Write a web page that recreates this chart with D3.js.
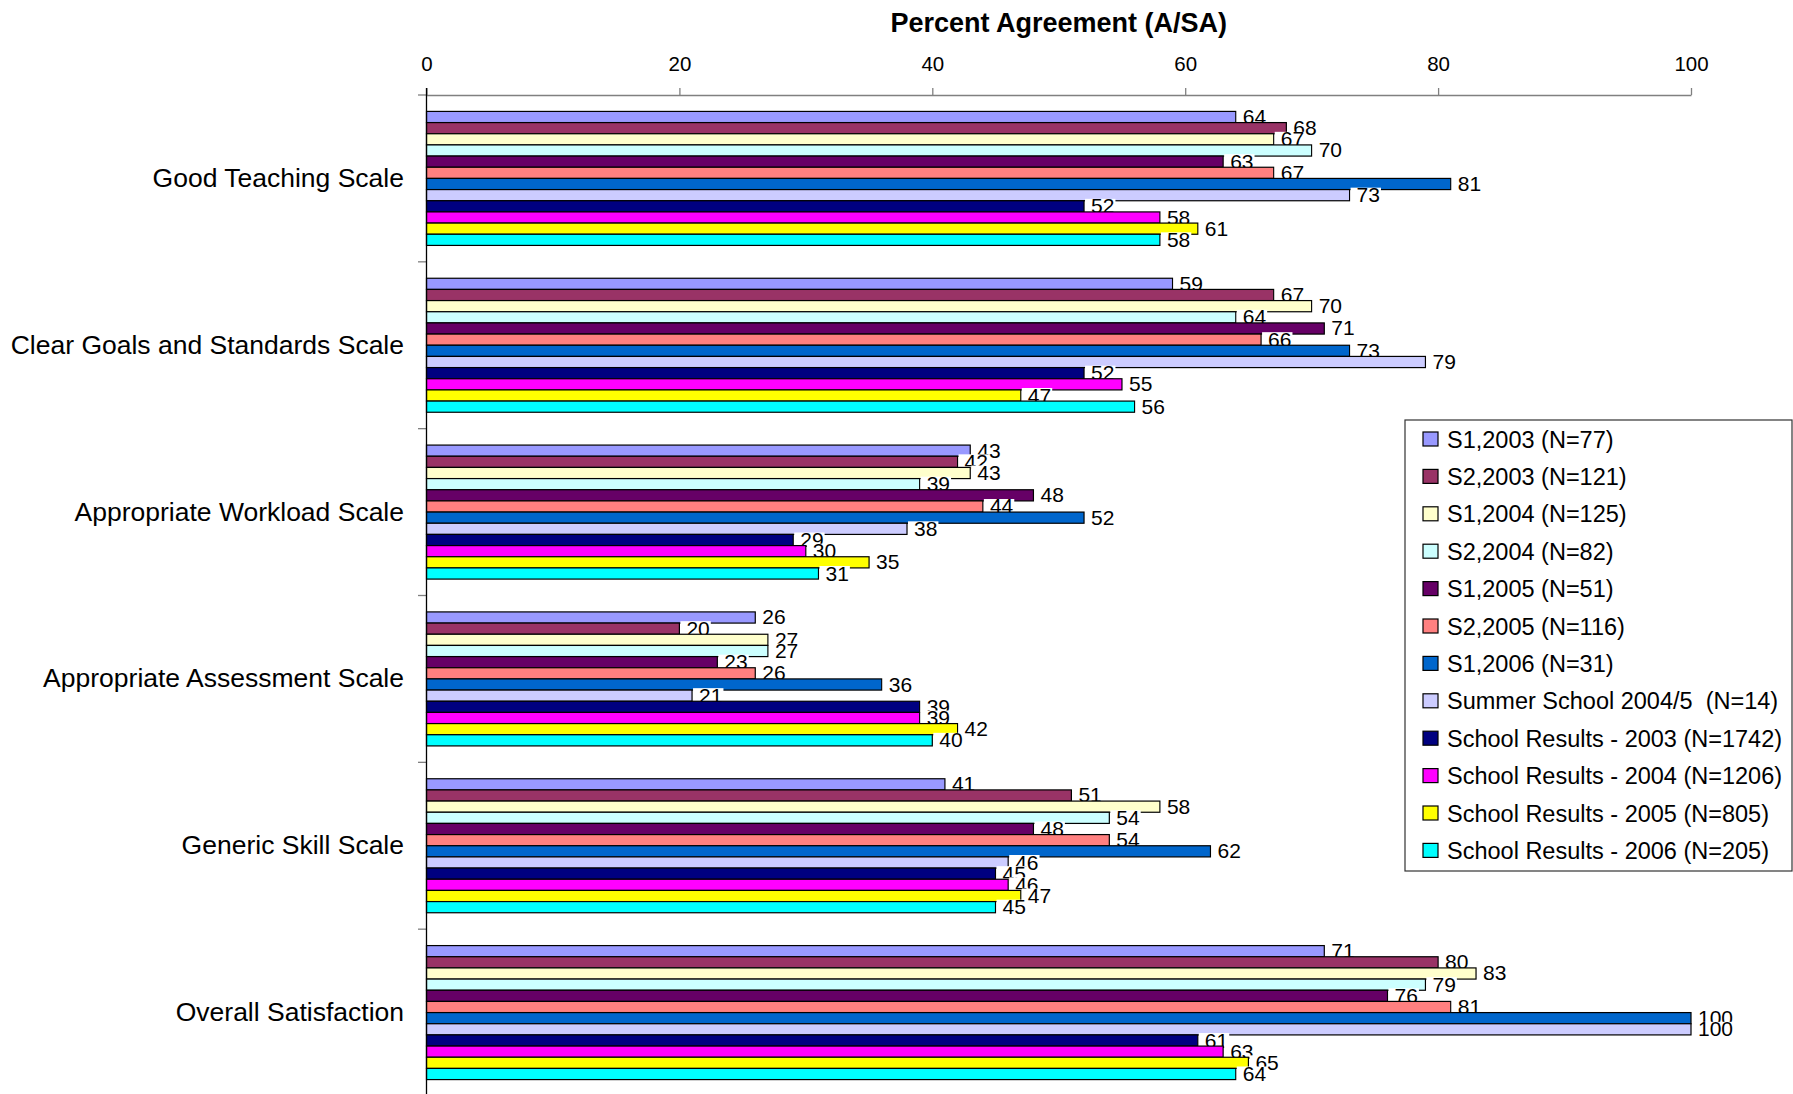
<!DOCTYPE html>
<html>
<head>
<meta charset="utf-8">
<script src="https://cdn.jsdelivr.net/npm/d3@7"></script>
<style>
  html, body { margin: 0; padding: 0; background: #fff; }
  svg { display: block; font-family: "Liberation Sans", Arial, sans-serif; }
</style>
</head>
<body>
<svg id="chart" width="1793" height="1094"></svg>
<script>
// ---- Data ----
const categories = [
  "Good Teaching Scale",
  "Clear Goals and Standards Scale",
  "Appropriate Workload Scale",
  "Appropriate Assessment Scale",
  "Generic Skill Scale",
  "Overall Satisfaction"
];
const seriesNames = [
  "S1,2003 (N=77)",
  "S2,2003 (N=121)",
  "S1,2004 (N=125)",
  "S2,2004 (N=82)",
  "S1,2005 (N=51)",
  "S2,2005 (N=116)",
  "S1,2006 (N=31)",
  "Summer School 2004/5  (N=14)",
  "School Results - 2003 (N=1742)",
  "School Results - 2004 (N=1206)",
  "School Results - 2005 (N=805)",
  "School Results - 2006 (N=205)"
];
const seriesColors = [
  "#9999FF", "#993366", "#FFFFCC", "#CCFFFF", "#660066", "#FF8080",
  "#0066CC", "#CCCCFF", "#000080", "#FF00FF", "#FFFF00", "#00FFFF"
];
// values per series, in category order
const s1_2003   = [64, 59, 43, 26, 41, 71];
const s2_2003   = [68, 67, 42, 20, 51, 80];
const s1_2004   = [67, 70, 43, 27, 58, 83];
const s2_2004   = [70, 64, 39, 27, 54, 79];
const s1_2005   = [63, 71, 48, 23, 48, 76];
const s2_2005   = [67, 66, 44, 26, 54, 81];
const s1_2006   = [81, 73, 52, 36, 62, 100];
const summer    = [73, 79, 38, 21, 46, 100];
const school03  = [52, 52, 29, 39, 45, 61];
const school04  = [58, 55, 30, 39, 46, 63];
const school05  = [61, 47, 35, 42, 47, 65];
const school06  = [58, 56, 31, 40, 45, 64];
const seriesValues = [s1_2003, s2_2003, s1_2004, s2_2004, s1_2005, s2_2005,
                      s1_2006, summer, school03, school04, school05, school06];
const xTicks = [0, 20, 40, 60, 80, 100];
const titleText = "Percent Agreement (A/SA)";

// ---- Layout ----
const svg = d3.select("#chart");
const plotLeft = 426.5, plotRight = 1691, plotTop = 95, plotBottom = 1096;

const x = d3.scaleLinear().domain([0, 100]).range([plotLeft, plotRight]);
const y = d3.scaleBand().domain(categories).range([plotTop, plotBottom]).padding(0);
const ys = d3.scaleBand().domain(seriesNames).range([0, y.bandwidth()])
  .paddingInner(0).paddingOuter(1.47);

// Title
svg.append("text")
  .attr("x", (plotLeft + plotRight) / 2)
  .attr("y", 32)
  .attr("text-anchor", "middle")
  .attr("font-weight", "bold")
  .attr("font-size", 27)
  .attr("fill", "#000")
  .text(titleText);

// X axis (top)
const xAxis = svg.append("g")
  .attr("transform", `translate(0,${plotTop})`)
  .call(d3.axisTop(x).tickValues(xTicks).tickSize(7).tickPadding(17).tickSizeOuter(0));
xAxis.select(".domain").attr("stroke", "#808080").attr("stroke-width", 1.3);
xAxis.selectAll(".tick line").attr("stroke", "#808080").attr("stroke-width", 1.3);
xAxis.selectAll(".tick text").attr("font-size", 20.5).attr("fill", "#000")
  .attr("font-family", "Liberation Sans, Arial, sans-serif");

// Category axis (left)
const yAxis = svg.append("g")
  .attr("transform", `translate(${plotLeft},0)`)
  .call(d3.axisLeft(y).tickSize(0).tickPadding(22.5));
yAxis.select(".domain").remove();
yAxis.selectAll(".tick text").attr("font-size", 26.5).attr("fill", "#000")
  .attr("font-family", "Liberation Sans, Arial, sans-serif");

// boundary ticks
const boundaries = categories.map(c => y(c)).concat([y.range()[1]]);
svg.append("g").selectAll("line").data(boundaries).join("line")
  .attr("x1", plotLeft - 8.5).attr("x2", plotLeft)
  .attr("y1", d => d).attr("y2", d => d)
  .attr("stroke", "#808080").attr("stroke-width", 1.3);

// Bars + labels, drawn series by series
const barsG = svg.append("g");
seriesNames.forEach((s, si) => {
  const g = barsG.append("g");
  const rows = categories.map((c, ci) => ({ c, v: seriesValues[si][ci] }));
  g.selectAll("rect").data(rows).join("rect")
    .attr("x", x(0))
    .attr("y", d => y(d.c) + ys(s))
    .attr("width", d => x(d.v) - x(0))
    .attr("height", ys.bandwidth())
    .attr("fill", seriesColors[si])
    .attr("stroke", "#000")
    .attr("stroke-width", 1.2);
  const lg = g.selectAll("g.lbl").data(rows).join("g").attr("class", "lbl");
  lg.append("rect")
    .attr("x", d => x(d.v) + 1)
    .attr("y", d => y(d.c) + ys(s) + ys.bandwidth() / 2 - 7.5)
    .attr("width", d => String(d.v).length * 11.7 + 7)
    .attr("height", 15)
    .attr("fill", "#fff");
  lg.append("text")
    .attr("x", d => x(d.v) + 7)
    .attr("y", d => y(d.c) + ys(s) + ys.bandwidth() / 2 + 7)
    .attr("font-size", 21)
    .attr("fill", "#000")
    .text(d => d.v);
});

// Y axis line (on top of bars)
svg.append("line")
  .attr("x1", plotLeft).attr("x2", plotLeft)
  .attr("y1", plotTop - 7).attr("y2", 1094)
  .attr("stroke", "#000").attr("stroke-width", 1.3);

// Legend
const legX = 1405, legY = 420, legW = 387, legH = 451;
const leg = svg.append("g");
leg.append("rect")
  .attr("x", legX).attr("y", legY).attr("width", legW).attr("height", legH)
  .attr("fill", "#fff").attr("stroke", "#333").attr("stroke-width", 1.2);
const items = leg.selectAll("g.item").data(seriesNames).join("g")
  .attr("class", "item")
  .attr("transform", (d, i) => `translate(${legX + 18},${legY + 19 + i * 37.4})`);
items.append("rect")
  .attr("x", 0).attr("y", -7).attr("width", 15).attr("height", 14)
  .attr("fill", (d, i) => seriesColors[i])
  .attr("stroke", "#000").attr("stroke-width", 1.2);
items.append("text")
  .attr("x", 24).attr("y", 8.5)
  .attr("font-size", 23.5)
  .attr("fill", "#000")
  .style("white-space", "pre")
  .attr("xml:space", "preserve")
  .text(d => d);
</script>
</body>
</html>
